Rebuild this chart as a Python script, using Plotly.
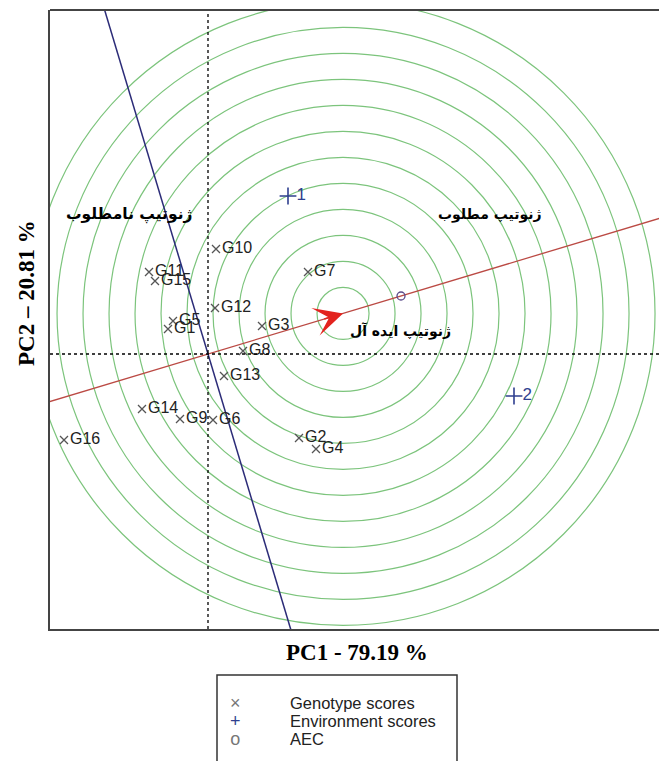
import numpy as np
import plotly.graph_objects as go

# Genotype scores on the first two principal components
genotypes = ["G1", "G2", "G3", "G4", "G5", "G6", "G7", "G8",
             "G9", "G10", "G11", "G12", "G13", "G14", "G15", "G16"]
geno_pc1 = [-0.40, 0.91, 0.54, 1.08, -0.35, 0.05, 1.00, 0.35,
            -0.28, 0.08, -0.59, 0.07, 0.16, -0.66, -0.53, -1.44]
geno_pc2 = [0.25, -0.84, 0.28, -0.95, 0.33, -0.66, 0.82, 0.03,
            -0.65, 1.05, 0.82, 0.46, -0.22, -0.55, 0.73, -0.86]

# Environment scores
environments = ["1", "2"]
env_pc1 = [0.80, 3.06]
env_pc2 = [1.58, -0.42]

# Legend entries
legend_symbols = ["×", "+", "o"]
legend_labels = ["Genotype scores", "Environment scores", "AEC"]

# Length of the ideal-genotype vector along the AEC and ring spacing
ideal_length = 1.41
ring_step = 0.26
ring_count = 12

x_range = [-1.58, 4.51]
y_range = [-2.75, 3.44]

# Average environment coordinate defines the AEC direction
aec_x = float(np.mean(env_pc1))
aec_y = float(np.mean(env_pc2))
aec_len = np.hypot(aec_x, aec_y)
ux, uy = aec_x / aec_len, aec_y / aec_len
ideal_x, ideal_y = ideal_length * ux, ideal_length * uy

GREEN = "#7cc47c"
RED_LINE = "#bb4a44"
BLUE_LINE = "#2c2c78"
ENV_BLUE = "#2f3f8f"
SANS = "Liberation Sans, Arial, sans-serif"
SERIF = "Liberation Serif, Times New Roman, serif"
FA = "DejaVu Sans, sans-serif"


def px_x(p):
    """Horizontal page position (px) to paper coordinate."""
    return (p - 50) / 609


def px_y(p):
    """Vertical page position (px) to paper coordinate."""
    return (629 - p) / 619


fig = go.Figure()

# Concentric rings around the ideal genotype
shapes = []
for k in range(1, ring_count + 1):
    r = k * ring_step
    shapes.append(dict(type="circle", xref="x", yref="y",
                       x0=ideal_x - r, x1=ideal_x + r,
                       y0=ideal_y - r, y1=ideal_y + r,
                       line=dict(color=GREEN, width=1.2), layer="below"))

# Reference axes through the origin
shapes.append(dict(type="line", xref="x", yref="y", x0=0, x1=0,
                   y0=y_range[0], y1=y_range[1],
                   line=dict(color="black", width=1.3, dash="dot")))
shapes.append(dict(type="line", xref="x", yref="y", x0=x_range[0], x1=x_range[1],
                   y0=0, y1=0,
                   line=dict(color="black", width=1.3, dash="dot")))
# Top frame line
shapes.append(dict(type="line", xref="paper", yref="paper", x0=0, x1=1.05,
                   y0=1, y1=1, line=dict(color="#444", width=2)))

# Average environment axis and its perpendicular
t = np.array([-6.0, 8.0])
fig.add_trace(go.Scatter(x=t * ux, y=t * uy, mode="lines",
                         line=dict(color=RED_LINE, width=1.3),
                         hoverinfo="skip", showlegend=False))
fig.add_trace(go.Scatter(x=-t * uy, y=t * ux, mode="lines",
                         line=dict(color=BLUE_LINE, width=1.5),
                         hoverinfo="skip", showlegend=False))

# Genotypes
fig.add_trace(go.Scatter(x=geno_pc1, y=geno_pc2, mode="markers+text",
                         text=genotypes, textposition="middle right",
                         textfont=dict(family=SANS, size=16, color="#222"),
                         marker=dict(symbol="x-thin", size=8, color="#555",
                                     line=dict(color="#555", width=1.3)),
                         showlegend=False))

# Environments
fig.add_trace(go.Scatter(x=env_pc1, y=env_pc2, mode="markers+text",
                         text=environments, textposition="middle right",
                         textfont=dict(family=SANS, size=17, color=ENV_BLUE),
                         marker=dict(symbol="cross-thin", size=12, color=ENV_BLUE,
                                     line=dict(color=ENV_BLUE, width=1.6)),
                         showlegend=False))

# AEC point
fig.add_trace(go.Scatter(x=[aec_x], y=[aec_y], mode="markers",
                         marker=dict(symbol="circle-open", size=8, color="#5a4a8a",
                                     line=dict(color="#5a4a8a", width=1.3)),
                         showlegend=False))

annotations = []
# Ideal genotype arrow head
annotations.append(dict(x=ideal_x, y=ideal_y, ax=ideal_x * 0.85, ay=ideal_y * 0.85,
                        xref="x", yref="y", axref="x", ayref="y",
                        text="", showarrow=True, arrowhead=3, arrowsize=3.0,
                        arrowwidth=1.6, arrowcolor="#e3231e"))

# Persian region labels
fa_font = dict(family=FA, size=14, color="black")
annotations += [
    dict(x=-0.79, y=1.40, xref="x", yref="y", text="<b>ژنوتیپ نامطلوب</b>",
         showarrow=False, font=dict(family=FA, size=15.5, color="black")),
    dict(x=2.82, y=1.40, xref="x", yref="y", text="<b>ژنوتیپ مطلوب</b>",
         showarrow=False, font=fa_font),
    dict(x=1.92, y=0.23, xref="x", yref="y", text="<b>ژنوتیپ ایده آل</b>",
         showarrow=False, font=fa_font),
]

# Axis titles
annotations.append(dict(x=px_x(357), y=px_y(652), xref="paper", yref="paper",
                        xanchor="center", yanchor="middle",
                        text="<b>PC1 - 79.19 %</b>", showarrow=False,
                        font=dict(family=SERIF, size=23, color="black")))
annotations.append(dict(x=px_x(26), y=px_y(293), xref="paper", yref="paper",
                        xanchor="center", yanchor="middle",
                        text="<b>PC2 – 20.81 %</b>", showarrow=False, textangle=-90,
                        font=dict(family=SERIF, size=23, color="black")))

# Legend panel: one stacked block for symbols, one for labels
shapes.append(dict(type="rect", xref="paper", yref="paper",
                   x0=px_x(217), x1=px_x(457), y0=px_y(775), y1=px_y(675),
                   line=dict(color="#333", width=1.5), fillcolor="white"))
symbol_colors = ["#777", ENV_BLUE, "#777"]
symbol_text = "<br>".join(
    f'<span style="font-size:18px;color:{c}">{s}</span>'
    for s, c in zip(legend_symbols, symbol_colors))
label_text = "<br>".join(
    f'<span style="font-size:16.5px">{s}</span>' for s in legend_labels)
annotations.append(dict(x=px_x(235), y=px_y(721), xref="paper", yref="paper",
                        xanchor="center", yanchor="middle", align="center",
                        text=symbol_text, showarrow=False,
                        font=dict(family=SANS, size=14, color="#777")))
annotations.append(dict(x=px_x(288), y=px_y(721), xref="paper", yref="paper",
                        xanchor="left", yanchor="middle", align="left",
                        text=label_text, showarrow=False,
                        font=dict(family=SANS, size=14, color="#222")))

fig.update_layout(
    width=659, height=761,
    margin=dict(l=50, r=0, t=10, b=132),
    plot_bgcolor="white", paper_bgcolor="white",
    shapes=shapes, annotations=annotations,
    xaxis=dict(range=x_range, showgrid=False, zeroline=False, showticklabels=False,
               ticks="", showline=True, linecolor="#444", linewidth=2),
    yaxis=dict(range=y_range, showgrid=False, zeroline=False, showticklabels=False,
               ticks="", showline=True, linecolor="#444", linewidth=2),
)

fig.write_html("out.html")
